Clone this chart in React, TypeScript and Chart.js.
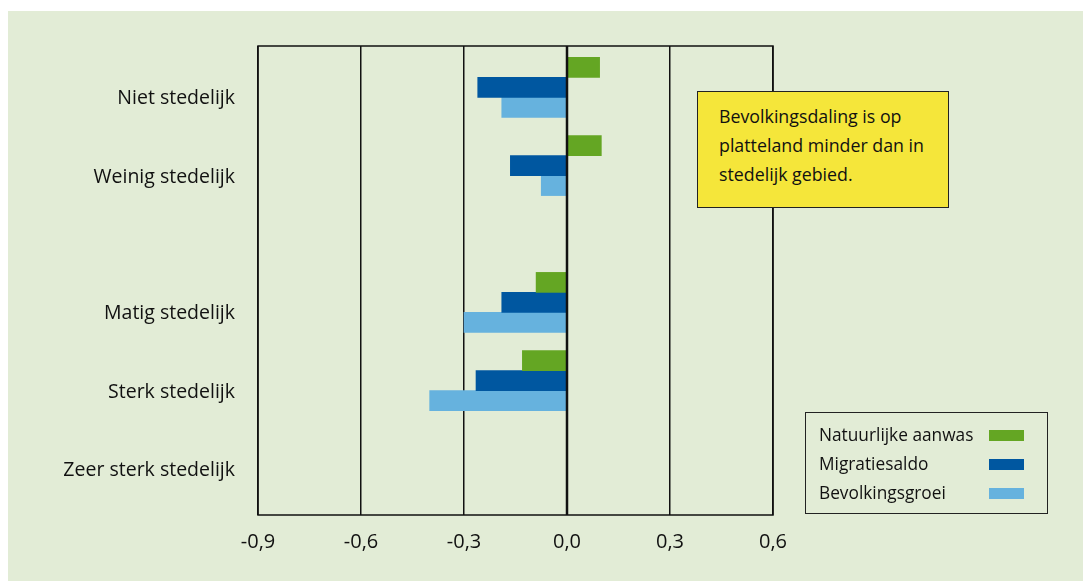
import React, { useEffect, useRef } from "react";
import { Chart, registerables } from "chart.js";

Chart.register(...registerables);

// ---- data ----
const categories = [
  "Niet stedelijk",
  "Weinig stedelijk",
  "Matig stedelijk",
  "Sterk stedelijk",
  "Zeer sterk stedelijk",
];
const natuurlijkeAanwas = [0.095, 0.1, -0.09, -0.13, null];
const migratiesaldo = [-0.26, -0.165, -0.19, -0.265, null];
const bevolkingsgroei = [-0.19, -0.075, -0.3, -0.4, null];
const seriesNames = ["Natuurlijke aanwas", "Migratiesaldo", "Bevolkingsgroei"];
const xTicks = [-0.9, -0.6, -0.3, 0, 0.3, 0.6];
const annotationLines = [
  "Bevolkingsdaling is op",
  "platteland minder dan in",
  "stedelijk gebied.",
];

// ---- layout (row positions on the category axis, not data) ----
const rowPositions = [0.53, 1.53, 3.28, 4.28, 5.28];

const COLORS = ["#64a623", "#0057a0", "#66b2de"];
const BG = "#e2ecd6";
const FONT = "'Open Sans', 'DejaVu Sans', sans-serif";

const boxPlugin = {
  id: "plotBox",
  afterDatasetsDraw(chart: any) {
    const { ctx, chartArea } = chart;
    ctx.save();
    ctx.strokeStyle = "#111";
    ctx.lineWidth = 1.5;
    ctx.strokeRect(
      chartArea.left,
      chartArea.top,
      chartArea.right - chartArea.left,
      chartArea.bottom - chartArea.top
    );
    const x0 = chart.scales.x.getPixelForValue(0);
    ctx.lineWidth = 2.5;
    ctx.beginPath();
    ctx.moveTo(x0, chartArea.top);
    ctx.lineTo(x0, chartArea.bottom);
    ctx.stroke();
    ctx.restore();
  },
};

export default function App() {
  const canvasRef = useRef<HTMLCanvasElement | null>(null);

  useEffect(() => {
    if (!canvasRef.current) return;
    const series = [natuurlijkeAanwas, migratiesaldo, bevolkingsgroei];
    const chart = new Chart(canvasRef.current, {
      type: "bar",
      data: {
        datasets: series.map((vals, si) => ({
          label: seriesNames[si],
          data: rowPositions.map((y, i) => ({ x: vals[i], y })),
          backgroundColor: COLORS[si],
          borderWidth: 0,
          barThickness: 20,
        })),
      },
      options: {
        indexAxis: "y",
        animation: false,
        responsive: false,
        maintainAspectRatio: false,
        layout: { padding: { top: 35, bottom: 16, left: 0, right: 310 } },
        plugins: {
          legend: { display: false },
          tooltip: { enabled: false },
        },
        scales: {
          x: {
            type: "linear",
            min: -0.9,
            max: 0.6,
            afterBuildTicks: (scale: any) => {
              scale.ticks = xTicks.map((v) => ({ value: v }));
            },
            afterFit: (scale: any) => {
              scale.height = 50;
            },
            grid: {
              color: "#111",
              lineWidth: 1.5,
              drawTicks: false,
            },
            border: { display: false },
            ticks: {
              padding: 15,
              color: "#111",
              font: { family: FONT, size: 20 },
              callback: (v: any) => Number(v).toFixed(1).replace(".", ","),
            },
          },
          y: {
            type: "linear",
            reverse: true,
            offset: false,
            min: 0,
            max: 6,
            afterBuildTicks: (scale: any) => {
              scale.ticks = rowPositions.map((v) => ({ value: v }));
            },
            afterFit: (scale: any) => {
              scale.width = 250;
            },
            grid: { display: false, drawTicks: false, offset: false },
            border: { display: false },
            ticks: {
              padding: 23,
              labelOffset: 11.5,
              color: "#111",
              font: { family: FONT, size: 19.5 },
              callback: (_v: any, i: number) => categories[i],
            },
          },
        },
      },
      plugins: [boxPlugin],
    } as any);
    return () => chart.destroy();
  }, []);

  return (
    <div
      style={{
        position: "fixed",
        left: 8,
        top: 11,
        width: 1075,
        height: 570,
        background: BG,
        fontFamily: FONT,
        color: "#111",
      }}
    >
      <canvas
        ref={canvasRef}
        width={1075}
        height={570}
        style={{ position: "absolute", left: 0, top: 0, width: 1075, height: 570 }}
      />
      <div
        style={{
          position: "absolute",
          left: 689,
          top: 80,
          width: 252,
          height: 117,
          boxSizing: "border-box",
          background: "#f5e63a",
          border: "1.5px solid #222",
          padding: "10px 0 0 21px",
          fontSize: 17.8,
          lineHeight: "29px",
        }}
      >
        {annotationLines.map((t, i) => (
          <div key={i}>{t}</div>
        ))}
      </div>
      <div
        style={{
          position: "absolute",
          left: 797,
          top: 401,
          width: 243,
          height: 102,
          boxSizing: "border-box",
          border: "1.5px solid #222",
          padding: "7px 0 0 13px",
          fontSize: 17.3,
          lineHeight: "29px",
        }}
      >
        {seriesNames.map((name, i) => (
          <div key={i} style={{ position: "relative", height: 29 }}>
            <span>{name}</span>
            <span
              style={{
                position: "absolute",
                left: 170,
                top: 10,
                width: 35,
                height: 11,
                background: COLORS[i],
              }}
            />
          </div>
        ))}
      </div>
    </div>
  );
}
